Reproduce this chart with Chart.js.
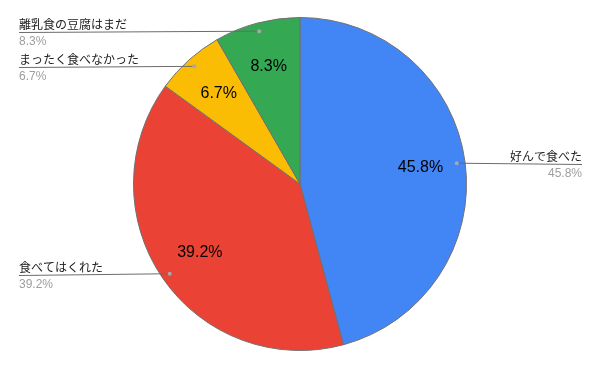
<!DOCTYPE html>
<html>
<head>
<meta charset="utf-8">
<script src="https://cdn.jsdelivr.net/npm/chart.js@4"></script>
<style>
  html, body {
    margin: 0;
    padding: 0;
    background: #fff;
  }
  .chart-container {
    position: relative;
    width: 600px;
    height: 371px;
  }
</style>
</head>
<body>
<div class="chart-container">
  <canvas id="chart"></canvas>
</div>
<script>
const LABELS = ["好んで食べた", "食べてはくれた", "まったく食べなかった", "離乳食の豆腐はまだ"];
const VALUES = [45.8, 39.2, 6.7, 8.3];
const COLORS = ["#4285F4", "#EA4335", "#FBBC04", "#34A853"];

const LABEL_FONT = '12px "Noto Sans CJK JP", "Liberation Sans", sans-serif';
const VALUE_FONT = '12px "Liberation Sans", Arial, sans-serif';
const INNER_FONT = '16px "Liberation Sans", Arial, sans-serif';

const total = VALUES.reduce((a, b) => a + b, 0);
const pct = (v) => ((v / total) * 100).toFixed(1) + "%";

// Inner percentages and outside leader labels, placed from each arc's geometry
const pieLabels = {
  id: "pieLabels",
  afterDatasetsDraw(chart) {
    const ctx = chart.ctx;
    const meta = chart.getDatasetMeta(0);
    const width = chart.width;

    meta.data.forEach((arc, i) => {
      const { x, y, startAngle, endAngle, outerRadius } = arc.getProps(
        ["x", "y", "startAngle", "endAngle", "outerRadius"],
        true
      );
      const mid = (startAngle + endAngle) / 2;
      const cos = Math.cos(mid);
      const sin = Math.sin(mid);

      ctx.save();
      // inner value
      ctx.font = INNER_FONT;
      ctx.fillStyle = "#000";
      ctx.textAlign = "center";
      ctx.textBaseline = "middle";
      const ir = outerRadius * 0.73;
      ctx.fillText(pct(VALUES[i]), x + cos * ir, y + sin * ir);

      // leader dot
      const lr = outerRadius * 0.95;
      const dx = x + cos * lr;
      const dy = y + sin * lr;
      const lineY = Math.round(dy) + 1.5;
      const right = cos > 0;
      const edgeX = right ? width - 18 : 19;

      ctx.strokeStyle = "#6b6b6b";
      ctx.lineWidth = 1;
      ctx.beginPath();
      ctx.moveTo(dx, dy);
      ctx.lineTo(edgeX, lineY);
      ctx.stroke();

      ctx.fillStyle = "#a8a8a8";
      ctx.beginPath();
      ctx.arc(dx, dy, 2, 0, Math.PI * 2);
      ctx.fill();

      ctx.textAlign = right ? "right" : "left";
      ctx.textBaseline = "middle";
      ctx.font = LABEL_FONT;
      ctx.fillStyle = "#222";
      ctx.fillText(LABELS[i], edgeX, lineY - 8);
      ctx.font = VALUE_FONT;
      ctx.fillStyle = "#9e9e9e";
      ctx.fillText(pct(VALUES[i]), edgeX, lineY + 9);
      ctx.restore();
    });
  },
};

new Chart(document.getElementById("chart"), {
  type: "pie",
  data: {
    labels: LABELS,
    datasets: [
      {
        data: VALUES,
        backgroundColor: COLORS,
        borderColor: "#707070",
        borderWidth: 1,
      },
    ],
  },
  options: {
    responsive: true,
    maintainAspectRatio: false,
    animation: false,
    layout: {
      padding: { top: 17, bottom: 20, left: 0, right: 0 },
    },
    plugins: {
      legend: { display: false },
      tooltip: { enabled: false },
    },
  },
  plugins: [pieLabels],
});
</script>
</body>
</html>
